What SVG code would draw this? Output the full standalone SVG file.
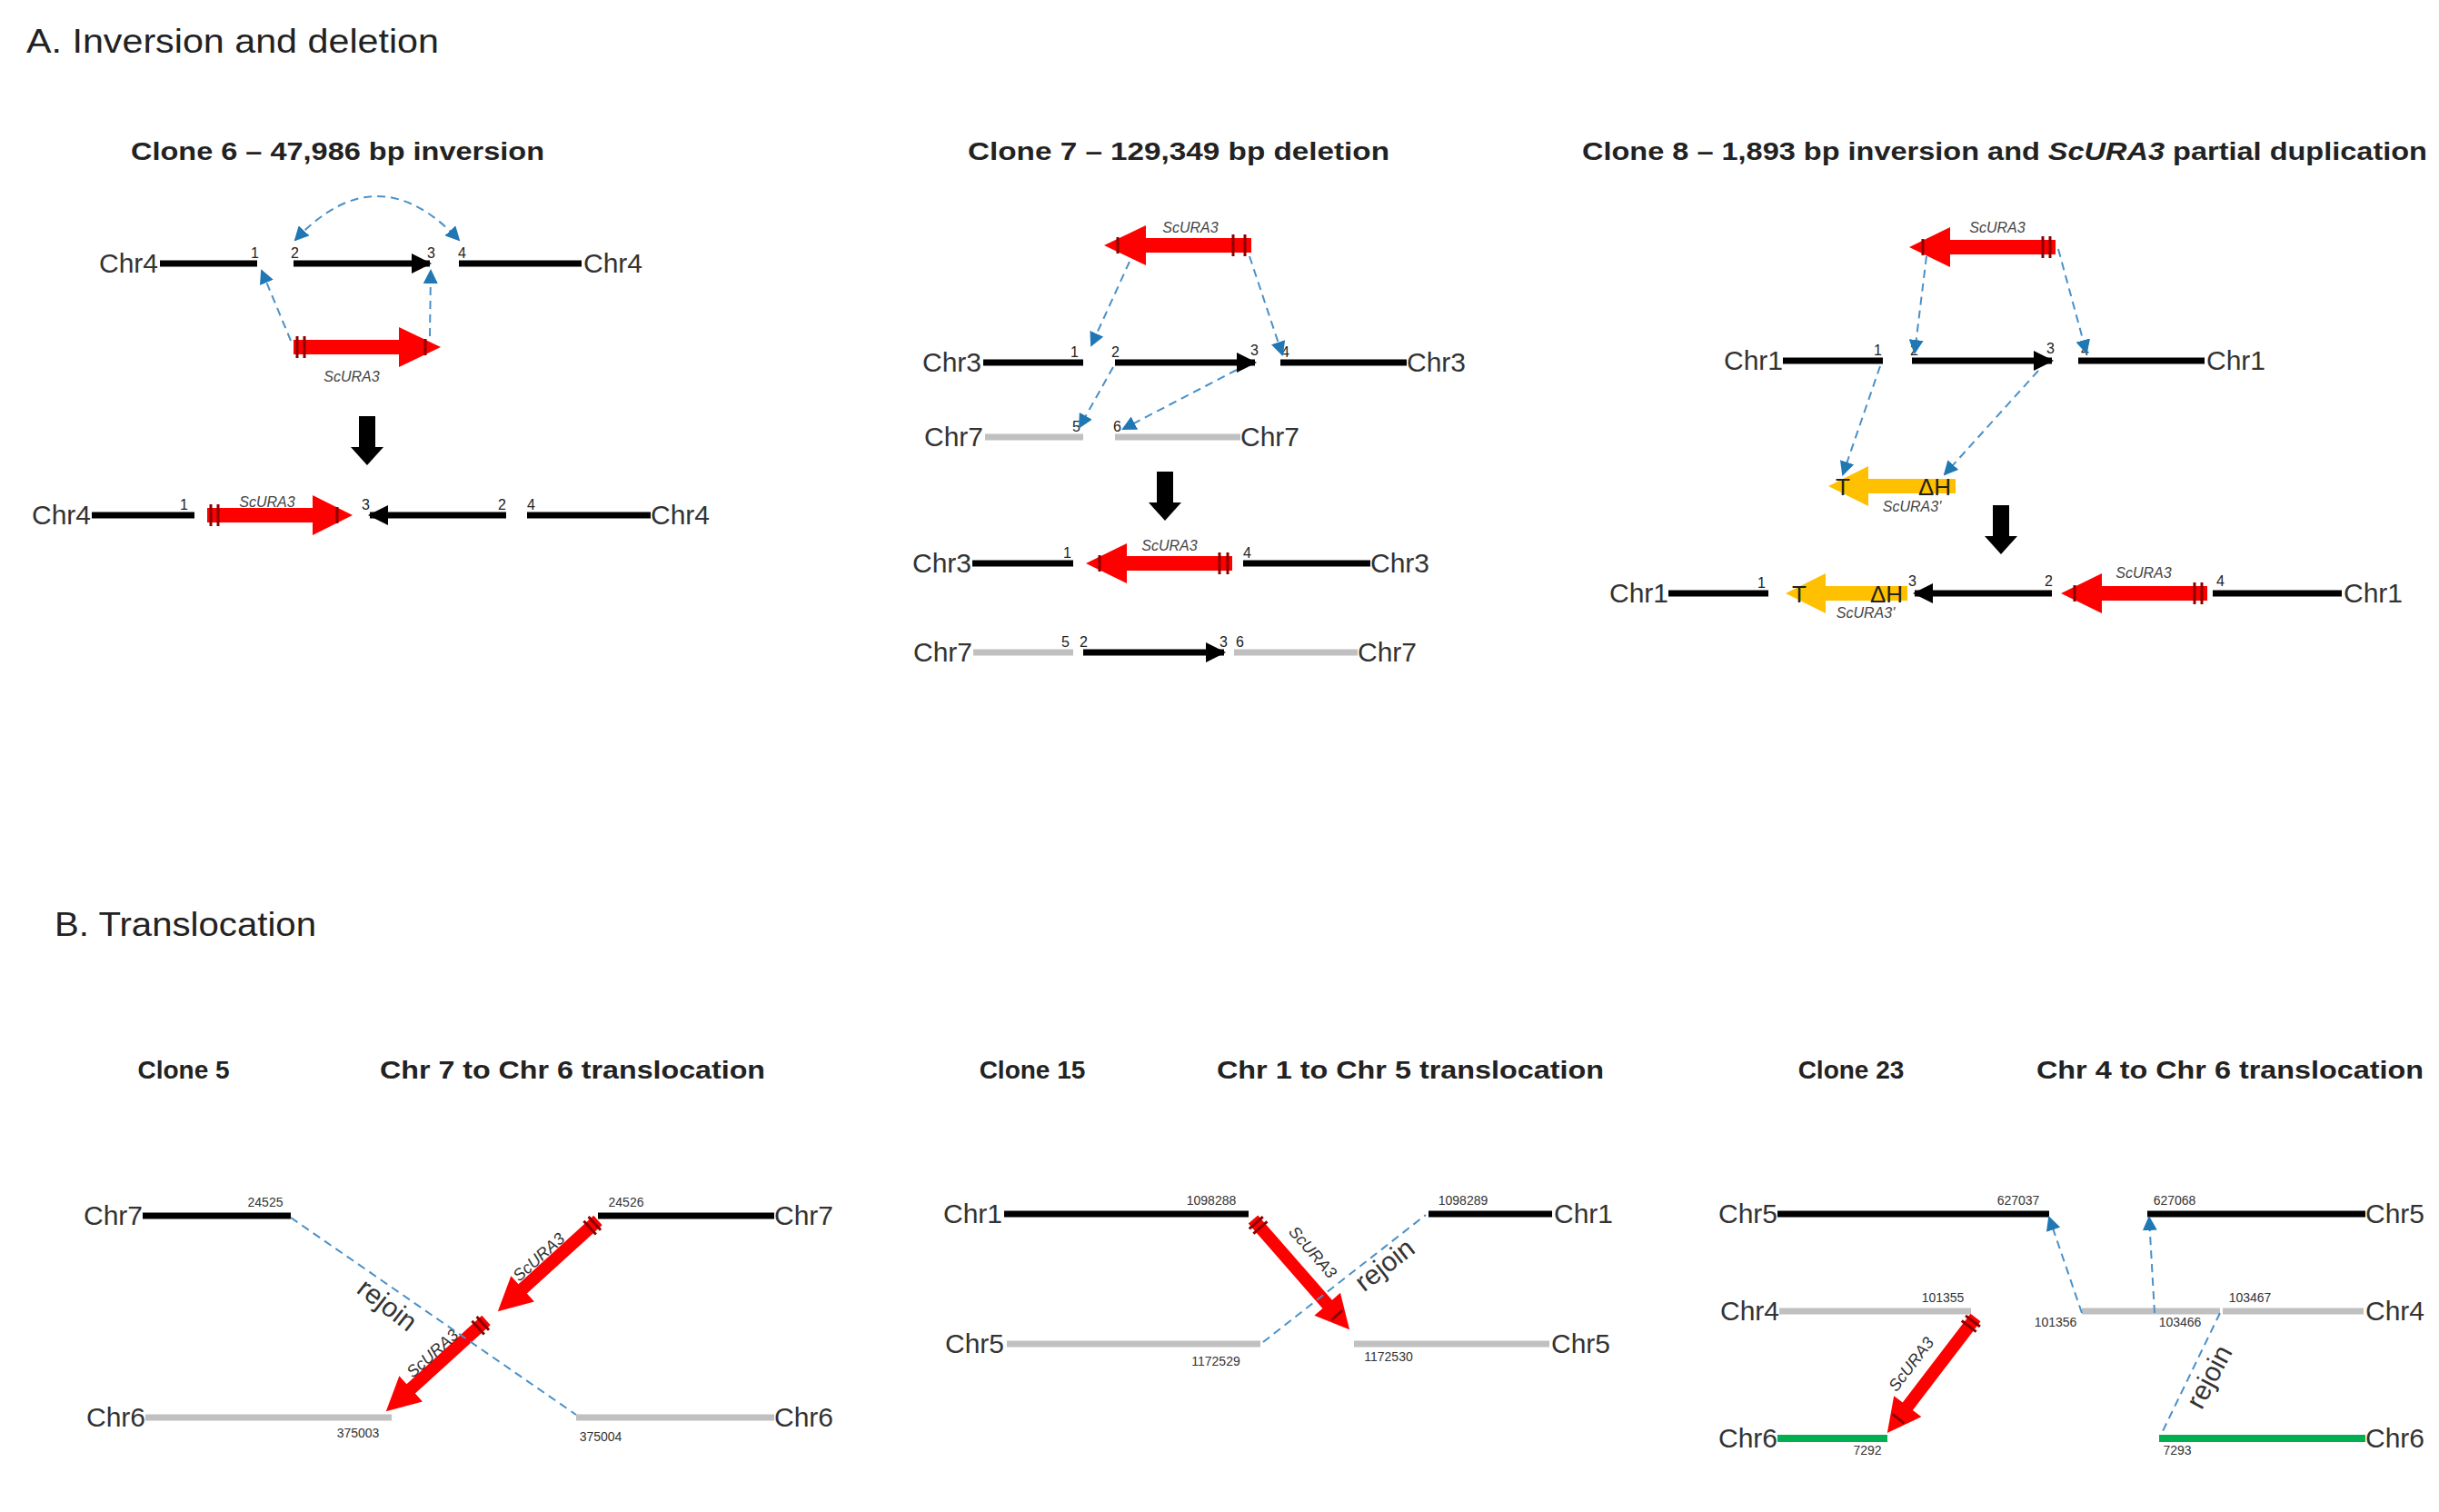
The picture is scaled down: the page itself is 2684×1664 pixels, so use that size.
<svg xmlns="http://www.w3.org/2000/svg" width="2684" height="1664" viewBox="0 0 2684 1664">
<style>
text{font-family:"Liberation Sans",Arial,sans-serif;fill:#222}
.h{font-size:36px}
.t{font-size:28px;font-weight:bold}
.chr{font-size:30px;fill:#333}
.n{font-size:16px}
.s{font-size:14px;fill:#333}
.g{font-size:16px;font-style:italic;fill:#444}
.gb{font-size:18px;font-style:italic;fill:#333}
.blk{stroke:#000;stroke-width:7;fill:none}
.gry{stroke:#c0c0c0;stroke-width:7;fill:none}
.grn{stroke:#00b050;stroke-width:8;fill:none}
.ba{stroke:#000;stroke-width:7;fill:none;marker-end:url(#bh)}
.dash{stroke:#4a90c8;stroke-width:2;stroke-dasharray:9 6;fill:none}
.da{stroke:#4a90c8;stroke-width:2;stroke-dasharray:9 6;fill:none;marker-end:url(#bl)}
.red{fill:#ff0000}
.yel{fill:#ffc000}
.mk{stroke:#8b0000;stroke-width:3}
</style>
<defs>
<marker id="bh" markerUnits="userSpaceOnUse" markerWidth="24" markerHeight="24" refX="20" refY="12" orient="auto"><path d="M0,1 L22,12 L0,23 z" fill="#000"/></marker>
<marker id="bl" markerUnits="userSpaceOnUse" markerWidth="16" markerHeight="16" refX="14" refY="8" orient="auto-start-reverse"><path d="M0,0 L16,8 L0,16 z" fill="#1f77b4"/></marker>
<path id="dn" d="M-9,0 H9 V34 H18 L0,54 L-18,34 H-9 Z" fill="#000"/>
</defs>

<text class="h" x="29" y="58" textLength="454" lengthAdjust="spacingAndGlyphs">A. Inversion and deletion</text>
<text class="h" x="60" y="1030" textLength="288" lengthAdjust="spacingAndGlyphs">B. Translocation</text>

<!-- Clone 6 -->
<g id="clone6">
<text class="t" x="144" y="176" textLength="455" lengthAdjust="spacingAndGlyphs">Clone 6 – 47,986 bp inversion</text>
<text class="chr" x="174" y="300" text-anchor="end">Chr4</text>
<line class="blk" x1="176" y1="290" x2="283" y2="290"/>
<line class="ba" x1="323" y1="290" x2="473" y2="290"/>
<line class="blk" x1="505" y1="290" x2="640" y2="290"/>
<text class="chr" x="642" y="300">Chr4</text>
<text class="n" x="276" y="284">1</text><text class="n" x="320" y="284">2</text><text class="n" x="470" y="284">3</text><text class="n" x="504" y="284">4</text>
<g transform="translate(323,382)"><path class="red" d="M0,-8 H116 V-22 L162,0 L116,22 V8 H0 Z"/><line class="mk" x1="4" y1="-12" x2="4" y2="12"/><line class="mk" x1="12" y1="-12" x2="12" y2="12"/><line class="mk" x1="145" y1="-9" x2="145" y2="9"/></g>
<text class="g" x="387" y="420" text-anchor="middle">ScURA3</text>
<use href="#dn" x="404" y="458"/>
<text class="chr" x="100" y="577" text-anchor="end">Chr4</text>
<line class="blk" x1="101" y1="567" x2="214" y2="567"/>
<text class="n" x="198" y="561">1</text>
<g transform="translate(228,567)"><path class="red" d="M0,-8 H116 V-22 L160,0 L116,22 V8 H0 Z"/><line class="mk" x1="4" y1="-12" x2="4" y2="12"/><line class="mk" x1="12" y1="-12" x2="12" y2="12"/><line class="mk" x1="143" y1="-9" x2="143" y2="9"/></g>
<text class="g" x="294" y="558" text-anchor="middle">ScURA3</text>
<text class="n" x="398" y="561">3</text>
<line class="ba" x1="557" y1="567" x2="407" y2="567"/>
<text class="n" x="548" y="561">2</text><text class="n" x="580" y="561">4</text>
<line class="blk" x1="580" y1="567" x2="716" y2="567"/>
<text class="chr" x="716" y="577">Chr4</text>
</g>

<!-- Clone 7 -->
<g id="clone7">
<text class="t" x="1065" y="176" textLength="464" lengthAdjust="spacingAndGlyphs">Clone 7 – 129,349 bp deletion</text>
<g transform="translate(1377,270) scale(-1,1)"><path class="red" d="M0,-8 H116 V-22 L162,0 L116,22 V8 H0 Z"/><line class="mk" x1="7" y1="-12" x2="7" y2="12"/><line class="mk" x1="20" y1="-12" x2="20" y2="12"/><line class="mk" x1="147" y1="-9" x2="147" y2="9"/></g>
<text class="g" x="1310" y="256" text-anchor="middle">ScURA3</text>
<text class="chr" x="1080" y="409" text-anchor="end">Chr3</text>
<line class="blk" x1="1082" y1="399" x2="1192" y2="399"/>
<line class="ba" x1="1227" y1="399" x2="1381" y2="399"/>
<line class="blk" x1="1409" y1="399" x2="1548" y2="399"/>
<text class="chr" x="1548" y="409">Chr3</text>
<text class="n" x="1178" y="393">1</text><text class="n" x="1223" y="393">2</text><text class="n" x="1376" y="391">3</text><text class="n" x="1410" y="393">4</text>
<text class="chr" x="1082" y="491" text-anchor="end">Chr7</text>
<line class="gry" x1="1084" y1="481" x2="1192" y2="481"/>
<line class="gry" x1="1227" y1="481" x2="1365" y2="481"/>
<text class="chr" x="1365" y="491">Chr7</text>
<text class="n" x="1180" y="475">5</text><text class="n" x="1225" y="475">6</text>
<use href="#dn" x="1282" y="519"/>
<text class="chr" x="1069" y="630" text-anchor="end">Chr3</text>
<line class="blk" x1="1070" y1="620" x2="1181" y2="620"/>
<text class="n" x="1170" y="614">1</text>
<g transform="translate(1356,620) scale(-1,1)"><path class="red" d="M0,-8 H116 V-22 L161,0 L116,22 V8 H0 Z"/><line class="mk" x1="5" y1="-12" x2="5" y2="12"/><line class="mk" x1="14" y1="-12" x2="14" y2="12"/><line class="mk" x1="146" y1="-9" x2="146" y2="9"/></g>
<text class="g" x="1287" y="606" text-anchor="middle">ScURA3</text>
<text class="n" x="1368" y="614">4</text>
<line class="blk" x1="1368" y1="620" x2="1508" y2="620"/>
<text class="chr" x="1508" y="630">Chr3</text>
<text class="chr" x="1070" y="728" text-anchor="end">Chr7</text>
<line class="gry" x1="1071" y1="718" x2="1181" y2="718"/>
<text class="n" x="1168" y="712">5</text><text class="n" x="1188" y="712">2</text>
<line class="ba" x1="1192" y1="718" x2="1347" y2="718"/>
<text class="n" x="1342" y="712">3</text><text class="n" x="1360" y="712">6</text>
<line class="gry" x1="1358" y1="718" x2="1494" y2="718"/>
<text class="chr" x="1494" y="728">Chr7</text>
</g>

<!-- Clone 8 -->
<g id="clone8">
<text class="t" x="1741" y="176" textLength="930" lengthAdjust="spacingAndGlyphs">Clone 8 – 1,893 bp inversion and <tspan font-style="italic">ScURA3</tspan> partial duplication</text>
<g transform="translate(2262,272) scale(-1,1)"><path class="red" d="M0,-8 H116 V-22 L161,0 L116,22 V8 H0 Z"/><line class="mk" x1="6" y1="-12" x2="6" y2="12"/><line class="mk" x1="14" y1="-12" x2="14" y2="12"/><line class="mk" x1="146" y1="-9" x2="146" y2="9"/></g>
<text class="g" x="2198" y="256" text-anchor="middle">ScURA3</text>
<text class="chr" x="1962" y="407" text-anchor="end">Chr1</text>
<line class="blk" x1="1962" y1="397" x2="2072" y2="397"/>
<line class="ba" x1="2104" y1="397" x2="2258" y2="397"/>
<line class="blk" x1="2287" y1="397" x2="2426" y2="397"/>
<text class="chr" x="2428" y="407">Chr1</text>
<text class="n" x="2062" y="391">1</text><text class="n" x="2102" y="391">2</text><text class="n" x="2252" y="389">3</text><text class="n" x="2290" y="391">4</text>
<g transform="translate(2152,535) scale(-1,1)"><path class="yel" d="M0,-8 H96 V-22 L140,0 L96,22 V8 H0 Z"/></g>
<text x="2028" y="545" font-size="26" text-anchor="middle">T</text>
<text x="2129" y="545" font-size="26" text-anchor="middle">ΔH</text>
<text class="g" x="2104" y="563" text-anchor="middle">ScURA3'</text>
<use href="#dn" x="2202" y="556"/>
<text class="chr" x="1836" y="663" text-anchor="end">Chr1</text>
<line class="blk" x1="1836" y1="653" x2="1946" y2="653"/>
<text class="n" x="1934" y="647">1</text>
<g transform="translate(2099,653) scale(-1,1)"><path class="yel" d="M0,-8 H90 V-22 L134,0 L90,22 V8 H0 Z"/></g>
<text x="1980" y="663" font-size="26" text-anchor="middle">T</text>
<text x="2076" y="663" font-size="26" text-anchor="middle">ΔH</text>
<text class="g" x="2053" y="680" text-anchor="middle">ScURA3'</text>
<text class="n" x="2100" y="645">3</text>
<line class="ba" x1="2258" y1="653" x2="2107" y2="653"/>
<text class="n" x="2250" y="645">2</text>
<g transform="translate(2429,653) scale(-1,1)"><path class="red" d="M0,-8 H116 V-22 L161,0 L116,22 V8 H0 Z"/><line class="mk" x1="6" y1="-12" x2="6" y2="12"/><line class="mk" x1="14" y1="-12" x2="14" y2="12"/><line class="mk" x1="146" y1="-9" x2="146" y2="9"/></g>
<text class="g" x="2359" y="636" text-anchor="middle">ScURA3</text>
<text class="n" x="2439" y="645">4</text>
<line class="blk" x1="2435" y1="653" x2="2577" y2="653"/>
<text class="chr" x="2579" y="663">Chr1</text>
</g>

<!-- Clone 5 -->
<g id="clone5">
<text class="t" x="202" y="1187" text-anchor="middle">Clone 5</text>
<text class="t" x="630" y="1187" text-anchor="middle" textLength="424" lengthAdjust="spacingAndGlyphs">Chr 7 to Chr 6 translocation</text>
<text class="chr" x="157" y="1348" text-anchor="end">Chr7</text>
<line class="blk" x1="157" y1="1338" x2="320" y2="1338"/>
<text class="s" x="292" y="1328" text-anchor="middle">24525</text>
<line class="blk" x1="658" y1="1338" x2="852" y2="1338"/>
<text class="s" x="689" y="1328" text-anchor="middle">24526</text>
<text class="chr" x="852" y="1348">Chr7</text>
<text class="chr" x="160" y="1570" text-anchor="end">Chr6</text>
<line class="gry" x1="160" y1="1560" x2="431" y2="1560"/>
<text class="s" x="394" y="1582" text-anchor="middle">375003</text>
<line class="gry" x1="634" y1="1560" x2="852" y2="1560"/>
<text class="s" x="661" y="1586" text-anchor="middle">375004</text>
<text class="chr" x="852" y="1570">Chr6</text>
<g transform="translate(658,1343) rotate(137.7)"><path class="red" d="M0,-7 H112 V-19 L149,0 L112,19 V7 H0 Z"/><line class="mk" x1="5" y1="-10" x2="5" y2="10"/><line class="mk" x1="12" y1="-10" x2="12" y2="10"/></g>
<g transform="translate(535,1453) rotate(137.7)"><path class="red" d="M0,-7 H112 V-19 L149,0 L112,19 V7 H0 Z"/><line class="mk" x1="5" y1="-10" x2="5" y2="10"/><line class="mk" x1="12" y1="-10" x2="12" y2="10"/></g>
<text class="gb" transform="translate(597,1388) rotate(-42)" text-anchor="middle">ScURA3</text>
<text class="gb" transform="translate(480,1494) rotate(-42)" text-anchor="middle">ScURA3</text>
<text class="chr" font-size="24" transform="translate(420,1444) rotate(38)" text-anchor="middle">rejoin</text>
</g>

<!-- Clone 15 -->
<g id="clone15">
<text class="t" x="1136" y="1187" text-anchor="middle">Clone 15</text>
<text class="t" x="1552" y="1187" text-anchor="middle" textLength="426" lengthAdjust="spacingAndGlyphs">Chr 1 to Chr 5 translocation</text>
<text class="chr" x="1103" y="1346" text-anchor="end">Chr1</text>
<line class="blk" x1="1105" y1="1336" x2="1374" y2="1336"/>
<text class="s" x="1333" y="1326" text-anchor="middle">1098288</text>
<line class="blk" x1="1572" y1="1336" x2="1708" y2="1336"/>
<text class="s" x="1610" y="1326" text-anchor="middle">1098289</text>
<text class="chr" x="1710" y="1346">Chr1</text>
<text class="chr" x="1105" y="1489" text-anchor="end">Chr5</text>
<line class="gry" x1="1108" y1="1479" x2="1387" y2="1479"/>
<text class="s" x="1338" y="1503" text-anchor="middle">1172529</text>
<line class="gry" x1="1490" y1="1479" x2="1705" y2="1479"/>
<text class="s" x="1528" y="1498" text-anchor="middle">1172530</text>
<text class="chr" x="1707" y="1489">Chr5</text>
<g transform="translate(1379,1342) rotate(48.8)"><path class="red" d="M0,-7 H124 V-19 L161,0 L124,19 V7 H0 Z"/><line class="mk" x1="5" y1="-10" x2="5" y2="10"/><line class="mk" x1="12" y1="-10" x2="12" y2="10"/><line class="mk" x1="140" y1="-8" x2="140" y2="8"/></g>
<text class="gb" transform="translate(1440,1382) rotate(48.8)" text-anchor="middle">ScURA3</text>
<text class="chr" font-size="24" transform="translate(1530,1400) rotate(-38)" text-anchor="middle">rejoin</text>
</g>

<!-- Clone 23 -->
<g id="clone23">
<text class="t" x="2037" y="1187" text-anchor="middle">Clone 23</text>
<text class="t" x="2454" y="1187" text-anchor="middle" textLength="426" lengthAdjust="spacingAndGlyphs">Chr 4 to Chr 6 translocation</text>
<text class="chr" x="1956" y="1346" text-anchor="end">Chr5</text>
<line class="blk" x1="1956" y1="1336" x2="2255" y2="1336"/>
<text class="s" x="2221" y="1326" text-anchor="middle">627037</text>
<line class="blk" x1="2363" y1="1336" x2="2603" y2="1336"/>
<text class="s" x="2393" y="1326" text-anchor="middle">627068</text>
<text class="chr" x="2603" y="1346">Chr5</text>
<text class="chr" x="1958" y="1453" text-anchor="end">Chr4</text>
<line class="gry" x1="1958" y1="1443" x2="2169" y2="1443"/>
<text class="s" x="2138" y="1433" text-anchor="middle">101355</text>
<line class="gry" x1="2291" y1="1443" x2="2443" y2="1443"/>
<line class="gry" x1="2446" y1="1443" x2="2601" y2="1443"/>
<text class="s" x="2262" y="1460" text-anchor="middle">101356</text>
<text class="s" x="2399" y="1460" text-anchor="middle">103466</text>
<text class="s" x="2476" y="1433" text-anchor="middle">103467</text>
<text class="chr" x="2603" y="1453">Chr4</text>
<text class="chr" x="1956" y="1593" text-anchor="end">Chr6</text>
<line class="grn" x1="1956" y1="1583" x2="2077" y2="1583"/>
<text class="s" x="2055" y="1601" text-anchor="middle">7292</text>
<line class="grn" x1="2376" y1="1583" x2="2603" y2="1583"/>
<text class="s" x="2396" y="1601" text-anchor="middle">7293</text>
<text class="chr" x="2603" y="1593">Chr6</text>
<g transform="translate(2174,1450) rotate(127.4)"><path class="red" d="M0,-7 H123 V-19 L160,0 L123,19 V7 H0 Z"/><line class="mk" x1="5" y1="-10" x2="5" y2="10"/><line class="mk" x1="12" y1="-10" x2="12" y2="10"/><line class="mk" x1="140" y1="-8" x2="140" y2="8"/></g>
<text class="gb" transform="translate(2108,1505) rotate(-52.6)" text-anchor="middle">ScURA3</text>
<text class="chr" font-size="24" transform="translate(2440,1520) rotate(-62)" text-anchor="middle">rejoin</text>
</g>

<g id="connectors">
<path class="dash" d="M325,264 Q415,168 505,264" marker-start="url(#bl)" marker-end="url(#bl)"/>
<line class="da" x1="320" y1="375" x2="288" y2="298"/>
<line class="da" x1="473" y1="370" x2="474" y2="298"/>
<line class="da" x1="1243" y1="288" x2="1201" y2="380"/>
<line class="da" x1="1375" y1="282" x2="1411" y2="390"/>
<line class="da" x1="1225" y1="404" x2="1188" y2="470"/>
<line class="da" x1="1361" y1="407" x2="1236" y2="472"/>
<line class="da" x1="2120" y1="282" x2="2107" y2="388"/>
<line class="da" x1="2265" y1="274" x2="2296" y2="388"/>
<line class="da" x1="2069" y1="403" x2="2028" y2="522"/>
<line class="da" x1="2243" y1="408" x2="2140" y2="522"/>
<line class="dash" x1="320" y1="1340" x2="634" y2="1557"/>
<line class="dash" x1="1390" y1="1477" x2="1569" y2="1337"/>
<line class="da" x1="2291" y1="1445" x2="2255" y2="1340"/>
<line class="da" x1="2371" y1="1445" x2="2365" y2="1340"/>
<line class="dash" x1="2443" y1="1445" x2="2379" y2="1577"/>
</g>
</svg>
